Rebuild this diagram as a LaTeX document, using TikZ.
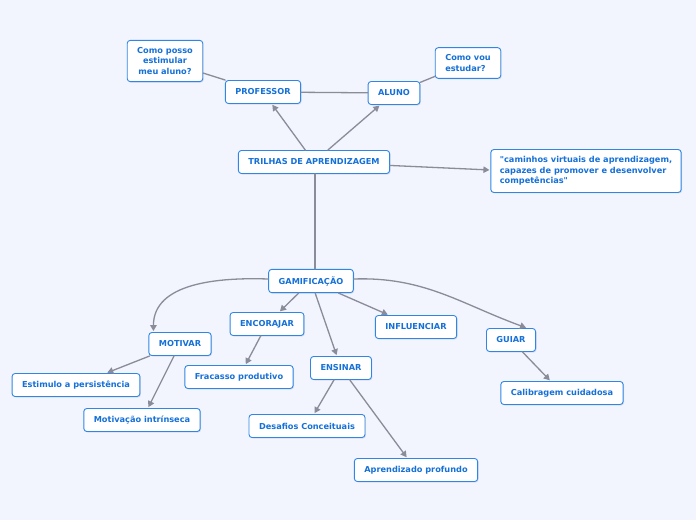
\documentclass[tikz,border=0pt]{standalone}
\usepackage{fontspec}
\setmainfont{DejaVu Sans}[Ligatures=TeXOff]
\usepackage{tikz}
\usetikzlibrary{arrows.meta,shadows}

\definecolor{bgcol}{HTML}{F2F5FD}
\definecolor{boxline}{HTML}{2F86E6}
\definecolor{boxtext}{HTML}{1570D8}
\definecolor{linkcol}{HTML}{8A8D99}

\begin{document}
\begin{tikzpicture}[
						x=1pt, y=-1pt,
						every node/.style={font=\fontsize{8.2}{10.5}\selectfont\bfseries},
						box/.style={draw=boxline, line width=0.9pt, fill=white, text=boxtext,
							rounded corners=3pt, minimum height=23pt, inner xsep=10pt, inner ysep=7pt,
							drop shadow={shadow xshift=1pt, shadow yshift=-1pt, opacity=0.2}},
						link/.style={draw=linkcol, line width=1.3pt, line cap=round},
						arrow/.style={link, -{Triangle[length=6pt,width=6.5pt]}, shorten >=1pt},
						line join=round
						]
						
						% background and page size
						\fill[bgcol] (0,0) rectangle (696,520);
						\useasboundingbox (0,0) rectangle (696,520);
						
						% top part
						\node[box] (trilhas) at (314,162) {TRILHAS DE APRENDIZAGEM};
						\node[box] (professor) at (263,92) {PROFESSOR};
						\node[box] (aluno) at (394,93) {ALUNO};
						\node[box, align=center] (estimular) at (165,61) {Como posso\\estimular\\meu aluno?};
						\node[box, align=left] (estudar) at (468,63) {Como vou\\estudar?};
						\node[box, align=left, inner xsep=9pt] (caminhos) at (586,171)
							{"caminhos virtuais de aprendizagem,\\capazes de promover e desenvolver\\competências"};
						
						% gamificacao and its branches
						\node[box] (gamif) at (311,281) {GAMIFICAÇÃO};
						\node[box] (motivar) at (180,344) {MOTIVAR};
						\node[box] (encorajar) at (267,324) {ENCORAJAR};
						\node[box] (ensinar) at (341,368) {ENSINAR};
						\node[box] (influenciar) at (416,327) {INFLUENCIAR};
						\node[box] (guiar) at (511,340) {GUIAR};
						
						% leaves
						\node[box] (persist) at (76,385) {Estimulo a persistência};
						\node[box] (intrinseca) at (142,420) {Motivação intrínseca};
						\node[box] (fracasso) at (239,377) {Fracasso produtivo};
						\node[box] (desafios) at (307,426) {Desafios Conceituais};
						\node[box] (profundo) at (416,470) {Aprendizado profundo};
						\node[box] (calibragem) at (562,393) {Calibragem cuidadosa};
						
						% plain links
						\draw[link] (professor) -- (estimular);
						\draw[link] (professor) -- (aluno);
						\draw[link] (aluno) -- (estudar);
						\draw[link] ([xshift=1pt]trilhas.south) -- ([xshift=4pt]gamif.north);
						
						% arrows
						\draw[arrow] (trilhas) -- (professor);
						\draw[arrow] (trilhas) -- (aluno);
						\draw[arrow] (trilhas) -- ([yshift=1pt]caminhos.west);
						\draw[arrow] ([yshift=2pt]gamif.west) to[out=178,in=90] ([xshift=5pt]motivar.north west);
						\draw[arrow] ([yshift=2pt]gamif.east) to[out=2,in=160] ([xshift=-9pt]guiar.north east);
						\draw[arrow] (gamif) -- (encorajar);
						\draw[arrow] (gamif) -- (ensinar);
						\draw[arrow] (gamif) -- (influenciar);
						\draw[arrow] (motivar) -- (persist);
						\draw[arrow] (motivar) -- (intrinseca);
						\draw[arrow] (encorajar) -- (fracasso);
						\draw[arrow] (ensinar) -- (desafios);
						\draw[arrow] (ensinar) -- (profundo);
						\draw[arrow] (guiar) -- (calibragem);
						
					\end{tikzpicture}
\end{document}
